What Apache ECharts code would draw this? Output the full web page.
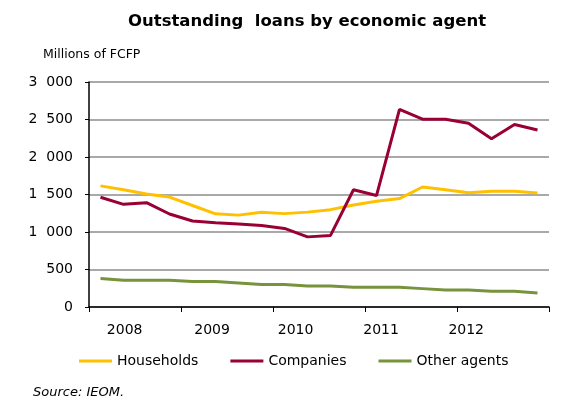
<!DOCTYPE html>
<html>
<head>
<meta charset="utf-8">
<script src="https://cdn.jsdelivr.net/npm/echarts@6/dist/echarts.min.js"></script>
<style>
  html, body { margin: 0; padding: 0; background: #fff; }
  #chart { width: 563px; height: 398px; }
</style>
</head>
<body>
<div id="chart"></div>
<script>
// Quarterly outstanding loans, millions of FCFP
const years = ['2008', '2009', '2010', '2011', '2012'];
const quarters = [];
years.forEach(y => ['Q1', 'Q2', 'Q3', 'Q4'].forEach(q => quarters.push(q + ' ' + y)));

const households = [1615, 1562, 1508, 1466, 1353, 1242, 1225, 1262, 1245, 1265,
                    1298, 1360, 1410, 1446, 1600, 1564, 1524, 1542, 1542, 1520];
const companies  = [1463, 1369, 1391, 1240, 1146, 1124, 1106, 1088, 1048, 935,
                    954, 1563, 1486, 2636, 2504, 2504, 2451, 2244, 2434, 2359];
const otherAgents = [379, 357, 357, 357, 339, 339, 321, 299, 299, 281,
                     281, 263, 263, 263, 245, 227, 227, 210, 210, 187];

const yTicks = [0, 500, 1000, 1500, 2000, 2500, 3000];

// Where each year caption sits along the quarter scale (0 = left edge, 20 = right edge)
const yearLabelAt = [1.55, 5.35, 8.98, 12.7, 16.4];

const FONT = 'DejaVu Sans';
const chart = echarts.init(document.getElementById('chart'), null, { renderer: 'canvas' });

// Thousands grouped with a wide gap: "3  000"
function fmt(v) {
  return String(v).replace(/\B(?=(\d{3})+(?!\d))/g, '  ');
}

chart.setOption({
  animation: false,
  textStyle: { fontFamily: FONT, color: '#000' },
  title: [{
    text: 'Outstanding  loans by economic agent',
    left: 128, top: 13, padding: 0,
    textStyle: { fontFamily: FONT, fontWeight: 'bold', fontSize: 16.5, color: '#000' }
  }, {
    text: 'Millions of FCFP',
    left: 43, top: 48, padding: 0,
    textStyle: { fontFamily: FONT, fontWeight: 'normal', fontSize: 12.5, color: '#000' }
  }, {
    text: 'Source: IEOM.',
    left: 33, top: 386, padding: 0,
    textStyle: { fontFamily: FONT, fontWeight: 'normal', fontStyle: 'italic', fontSize: 13, color: '#000' }
  }],
  legend: {
    left: 79, top: 354, padding: 0,
    itemWidth: 33, itemHeight: 3, itemGap: 32,
    icon: 'rect',
    textStyle: { fontFamily: FONT, fontSize: 14, color: '#000' },
    data: ['Households', 'Companies', 'Other agents']
  },
  grid: { left: 89, right: 14, top: 82, bottom: 91 },
  xAxis: [{
    type: 'category',
    data: quarters,
    boundaryGap: true,
    show: false
  }, {
    // year boundaries: axis line and ticks
    type: 'category',
    data: years,
    position: 'bottom',
    boundaryGap: true,
    axisLine: { show: true, lineStyle: { color: '#000', width: 1.5 } },
    axisTick: { show: true, alignWithLabel: false, length: 5, inside: false, lineStyle: { color: '#000' } },
    axisLabel: { show: false },
    splitLine: { show: false }
  }, {
    // year captions
    type: 'value',
    min: 0, max: quarters.length,
    position: 'bottom',
    axisLine: { show: false },
    axisTick: { show: false },
    splitLine: { show: false },
    axisLabel: {
      customValues: yearLabelAt,
      fontFamily: FONT, fontSize: 14, color: '#000', margin: 16,
      formatter: function (v) {
        const i = yearLabelAt.indexOf(v);
        return i >= 0 ? years[i] : '';
      }
    }
  }],
  yAxis: {
    type: 'value',
    min: yTicks[0], max: yTicks[yTicks.length - 1], interval: 500,
    axisLine: { show: true, lineStyle: { color: '#000', width: 1.5 } },
    axisTick: { show: true, length: 4, lineStyle: { color: '#000' } },
    axisLabel: { fontFamily: FONT, fontSize: 14, color: '#000', margin: 16, formatter: v => fmt(v) },
    splitLine: { show: true, lineStyle: { color: '#8c8c8c', width: 1.5 } }
  },
  series: [{
    name: 'Households', type: 'line', xAxisIndex: 0, data: households,
    showSymbol: false, lineStyle: { color: '#FFC000', width: 3 }, itemStyle: { color: '#FFC000' }
  }, {
    name: 'Companies', type: 'line', xAxisIndex: 0, data: companies,
    showSymbol: false, lineStyle: { color: '#990033', width: 3 }, itemStyle: { color: '#990033' }
  }, {
    name: 'Other agents', type: 'line', xAxisIndex: 0, data: otherAgents,
    showSymbol: false, lineStyle: { color: '#77933C', width: 3 }, itemStyle: { color: '#77933C' }
  }]
});
</script>
</body>
</html>
